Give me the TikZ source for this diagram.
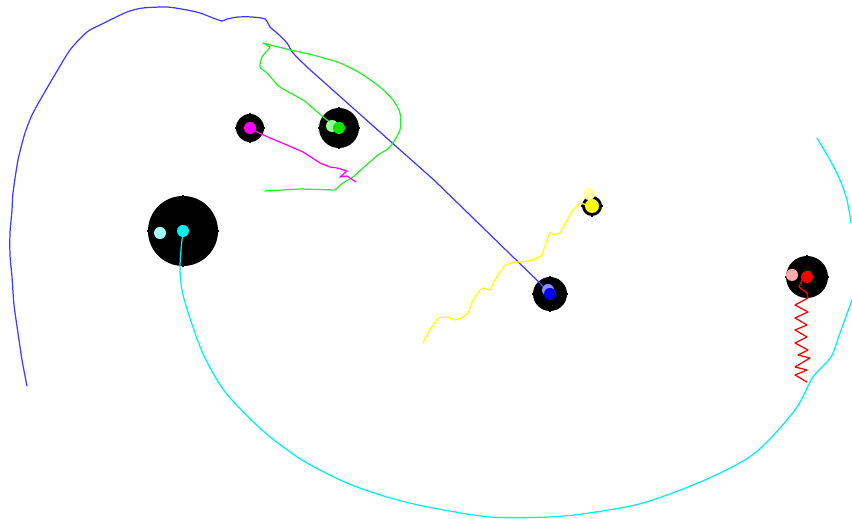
\documentclass[tikz,border=0pt]{standalone}
\usepackage{xcolor}
\usepackage{tikz}
\usetikzlibrary{calc}

\definecolor{trailblue}{RGB}{60,60,255}
\definecolor{trailgreen}{RGB}{40,240,40}
\definecolor{bodygreen}{RGB}{0,230,0}
\definecolor{bodycyan}{RGB}{0,240,240}
\definecolor{bodymagenta}{RGB}{255,0,255}
\definecolor{bodyblue}{RGB}{0,0,255}
\definecolor{bodyyellow}{RGB}{255,255,0}
\definecolor{bodyred}{RGB}{255,0,0}
\definecolor{lightgreen}{RGB}{150,255,150}
\definecolor{lightcyan}{RGB}{160,255,255}
\definecolor{lightblue}{RGB}{140,140,255}
\definecolor{lightyellow}{RGB}{255,255,170}
\definecolor{lightred}{RGB}{255,170,170}

\begin{document}
\begin{tikzpicture}[x=0.02cm, y=-0.02cm, line join=round, line cap=round,
    trail/.style={line width=0.7pt},
    tick/.style={line width=0.6pt, line cap=butt, black}]
    % Frame
    \useasboundingbox (0,0) rectangle (852,519);

    % Body centres and sizes
    \coordinate (Pm) at (250,128);
    \coordinate (Pg) at (339,128);
    \coordinate (Pc) at (183,231);
    \coordinate (Pb) at (550,294);
    \coordinate (Py) at (592,206);
    \coordinate (Pr) at (807,277);
    \def\rdot{6}

    % Black bodies
    \fill[black] (Pm) circle (14);
    \fill[black] (Pg) circle (20);
    \fill[black] (Pc) circle (35);
    \fill[black] (Pb) circle (17);
    \fill[black] (Py) circle (10);
    \fill[black] (Pr) circle (21);

    % Small ticks on the bodies
    \foreach \p/\r in {Pm/14, Pg/20, Pc/35, Pb/17, Py/10, Pr/21} {
        \draw[tick] ($(\p)+(\r,0)$) -- ++(1,0);
        \draw[tick] ($(\p)-(\r,0)$) -- ++(-1,0);
        \draw[tick] ($(\p)+(0,\r)$) -- ++(0,1);
        \draw[tick] ($(\p)-(0,\r)$) -- ++(0,-1);
    }

    % Blue trail
    \draw[trail, trailblue] plot[smooth, tension=0.4] coordinates {
        (27,386) (22,360) (18,333) (14,305) (12,277) (10,255) (10,233)
        (12,210) (13,193) (18,160) (25,133) (33,113) (50,83) (70,50)
        (87,32) (100,25) (127,12) (143,8) (167,7) (187,10) (200,13)
        (213,18) (222,21) (227,19) (238,17) (252,17) (265,19) (270,27)
        (277,33) (287,43) (293,53) (308,68)}
        -- (435,181) -- (548,291);

    % Green trail
    \draw[trail, trailgreen] plot[smooth, tension=0.4] coordinates {
        (338,128) (327,120) (315,110) (303,100) (280,87) (267,73)
        (260,67) (262,57) (268,50)}
        -- (270,47) -- (263,43) -- (290,50)
        plot[smooth, tension=0.4] coordinates {
        (290,50) (313,55) (340,63) (360,73) (380,87) (393,100) (400,113)
        (400,130) (390,147) (378,155) (363,168) (353,177) (343,183) (335,190)}
        -- (300,189) -- (265,191);

    % Magenta trail
    \draw[trail, bodymagenta] (250,128) -- (257,132) -- (270,138) -- (287,145)
        -- (303,152) -- (320,163) -- (330,167) -- (337,168) -- (347,171)
        -- (340,177) -- (347,176) -- (356,182);

    % Cyan trail
    \draw[trail, bodycyan] plot[smooth, tension=0.5] coordinates {
        (183,231) (181,250) (180,270) (183,295) (195,333) (206,360)
        (226,393) (262,430) (302,460) (347,483) (387,497) (428,507)
        (490,517) (549,517) (589,513) (643,503) (705,480) (755,453)
        (795,410) (813,377) (831,357) (840,333) (852,300)};
    \draw[trail, bodycyan] plot[smooth, tension=0.5] coordinates {
        (817,138) (830,160) (840,180) (847,200) (851,223)};

    % Yellow trail
    \draw[trail, bodyyellow] (592,206) -- (588,205) -- (580,203) -- (573,210)
        -- (567,220) -- (560,233) -- (553,235) -- (550,232) -- (547,240)
        -- (542,255) -- (533,260) -- (523,262) -- (515,262) -- (505,265)
        -- (500,272) -- (495,280) -- (490,290) -- (483,288) -- (480,290)
        -- (473,300) -- (468,313) -- (462,318) -- (455,320) -- (447,317)
        -- (438,318) -- (433,325) -- (428,333) -- (423,343);

    % Red trail
    \draw[trail, bodyred] (807,277) -- (802,280) -- (799,287) -- (807,293)
        -- (808,298) -- (795,305) -- (808,312) -- (795,318) -- (807,325)
        -- (795,330) -- (807,337) -- (795,343) -- (808,350) -- (798,355)
        -- (810,358) -- (795,367) -- (807,370) -- (795,375) -- (807,382);

    % Earlier positions
    \fill[lightgreen] (332,126) circle (\rdot);
    \fill[lightcyan] (160,233) circle (\rdot);
    \fill[lightblue] (548,290) circle (\rdot);
    \fill[lightyellow] (589,194) circle (\rdot);
    \fill[lightred] (792,275) circle (\rdot);

    % Current positions
    \fill[bodymagenta] (Pm) circle (\rdot);
    \fill[bodygreen] (Pg) circle (\rdot);
    \fill[bodycyan] (Pc) circle (\rdot);
    \fill[bodyblue] (Pb) circle (\rdot);
    \fill[bodyyellow] (Py) circle (7);
    \fill[bodyred] (Pr) circle (\rdot);
\end{tikzpicture}
\end{document}
